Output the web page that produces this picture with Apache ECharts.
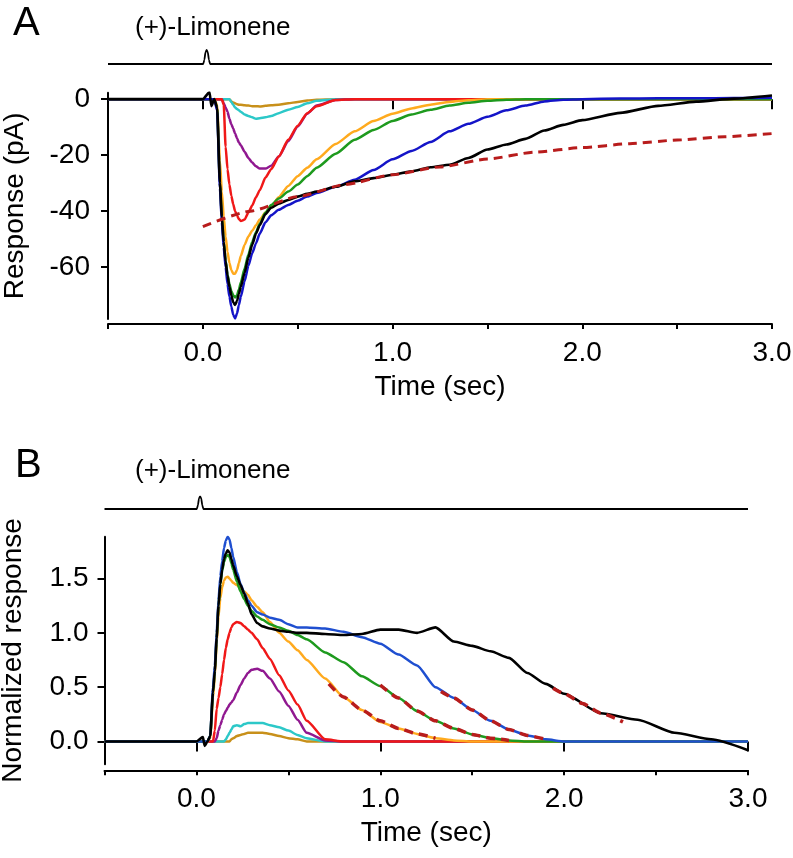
<!DOCTYPE html>
<html><head><meta charset="utf-8">
<script src="https://cdn.jsdelivr.net/npm/echarts/dist/echarts.min.js"></script>
<style>html,body{margin:0;padding:0;background:#fff}#c{width:793px;height:858px}</style>
</head><body><div id="c"></div>
<script>
// ---- shared sample times (s) ----
const time = [-0.5, 0, 0.035, 0.045, 0.06, 0.075, 0.09, 0.1, 0.11, 0.12, 0.13, 0.14, 0.15, 0.16, 0.17, 0.18, 0.19, 0.2, 0.22, 0.24, 0.26, 0.28, 0.3, 0.33, 0.36, 0.4, 0.45, 0.5, 0.55, 0.6, 0.7, 0.8, 0.9, 1.0, 1.1, 1.2, 1.3, 1.4, 1.5, 1.6, 1.7, 1.8, 1.9, 2.0, 2.2, 2.4, 2.6, 2.8, 3.0];

// ---- Panel A: response (pA) ----
const aBlack  = [0,0,2.5,-2.5,0,-3,-30,-42,-51,-58,-63,-67,-70,-72.5,-73.5,-72,-69.5,-67,-62,-56.5,-52,-48,-45,-41,-38.8,-37.3,-36,-34.8,-33.8,-33,-31.3,-29.3,-28.2,-27,-25.8,-24.3,-23.4,-21,-18,-16.2,-14.2,-11.2,-9.2,-7.5,-4.9,-2.4,-0.9,0.2,1.3];
const aBlue   = [0,0,0,0,0,-4,-32,-44,-53,-60,-66,-70.5,-74,-77,-78.3,-76.5,-73.5,-70.5,-65,-59.5,-55,-51.5,-48,-44,-41.5,-39.5,-37.8,-36.3,-34.8,-33.5,-31.3,-28.8,-25.3,-21.5,-18.5,-15.3,-11.5,-8.8,-6.3,-4.0,-2.3,-0.8,-0.2,0,0.2,0.3,0.3,0.4,0.5];
const aGreen  = [0,0,0,0,0,-3,-30,-42,-51,-57.5,-62.5,-66,-68.5,-70,-70.8,-70,-68,-65.5,-60.5,-55.5,-51,-47.5,-44.5,-40.5,-37.8,-35.5,-33,-30.5,-27.5,-24.5,-19.5,-14.5,-11,-7.8,-5.5,-3.8,-2.3,-1.3,-0.6,-0.2,0,0,0,0,0,0,0,0,0];
const aOrange = [0,0,0,0,0,-2,-22,-33,-42,-49,-54.5,-58.5,-61,-62.3,-62.3,-61,-58.5,-56,-52,-49,-47,-45,-43,-40.5,-38.5,-35,-31,-27.5,-24.5,-21.5,-16,-11.5,-7.8,-5.2,-3.3,-2.0,-1.0,-0.4,0,0,0,0,0,0,0,0,0,0,0];
const aRed    = [0,0,0,0,0,0,0,0,-2,-17,-25,-30.5,-34.5,-37.5,-40,-41.5,-42.8,-43.5,-43,-40.5,-38,-35,-32.5,-28,-25,-20.5,-14.5,-9.5,-5,-2.5,-0.3,0,0,0,0,0,0,0,0,0,0,0,0,0,0,0,0,0,0];
const aPurple = [0,0,0,0,0,0,0,0,-1.5,-3,-4.5,-7,-9,-10.5,-12.3,-14,-15.5,-16.5,-18.8,-21,-22.6,-24,-24.8,-24.8,-23.8,-20.5,-15,-9.8,-5.2,-2.3,-0.3,0,0,0,0,0,0,0,0,0,0,0,0,0,0,0,0,0,0];
const aCyan   = [0,0,0,0,0,0,0,0,0,0,0,0,-1,-2,-3,-3.5,-4,-4.5,-5.5,-6,-6.5,-7,-6.8,-6.5,-6,-5,-3.8,-2.8,-1.5,-0.6,0,0,0,0,0,0,0,0,0,0,0,0,0,0,0,0,0,0,0];
const aGold   = [0,0,0,0,0,0,0,0,0,0,0,0,-0.8,-1.2,-1.5,-1.8,-2,-2,-2.2,-2.3,-2.5,-2.5,-2.6,-2.4,-2.2,-2,-1.5,-1,-0.5,-0.2,0,0,0,0,0,0,0,0,0,0,0,0,0,0,0,0,0,0,0];
const aFitTime = [0, 0.25, 0.5, 0.75, 1.0, 1.25, 1.5, 1.75, 2.0, 2.25, 2.5, 2.75, 3.0];
const aFit     = [-45.5, -40.0, -34.8, -30.5, -27.0, -24.2, -21.4, -18.9, -17.3, -15.9, -14.6, -13.4, -12.3];

// ---- Panel B: normalized response ----
const bBlack  = [0,0,0.04,-0.04,0,0.05,0.45,0.65,0.95,1.25,1.45,1.58,1.68,1.73,1.76,1.74,1.68,1.62,1.52,1.44,1.36,1.27,1.17,1.09,1.06,1.04,1.02,1.01,1.0,1.0,0.99,0.98,0.99,1.03,1.03,1.0,1.05,0.92,0.88,0.83,0.77,0.63,0.53,0.44,0.26,0.2,0.08,0.02,-0.08];
const bBlue   = [0,0,0,0,0,0.05,0.5,0.7,1.0,1.3,1.52,1.66,1.78,1.85,1.885,1.86,1.78,1.7,1.56,1.45,1.37,1.3,1.25,1.19,1.17,1.14,1.12,1.08,1.05,1.05,1.04,1.01,0.96,0.9,0.8,0.7,0.5,0.4,0.29,0.19,0.11,0.055,0.02,0,0,0,0,0,0];
const bGreen  = [0,0,0,0,0,0.05,0.45,0.65,0.95,1.25,1.45,1.57,1.65,1.7,1.716,1.7,1.64,1.58,1.47,1.38,1.31,1.25,1.2,1.15,1.12,1.08,1.05,1.02,0.98,0.94,0.82,0.73,0.6,0.51,0.4,0.28,0.19,0.12,0.065,0.03,0.01,0,0,0,0,0,0,0,0];
const bOrange = [0,0,0,0,0,0.03,0.4,0.6,0.9,1.15,1.32,1.42,1.48,1.51,1.516,1.5,1.48,1.46,1.44,1.41,1.38,1.35,1.3,1.24,1.19,1.1,1.0,0.92,0.84,0.75,0.58,0.41,0.29,0.18,0.12,0.07,0.03,0.01,0,0,0,0,0,0,0,0,0,0,0];
const bRed    = [0,0,0,0,0,0,0,0.1,0.3,0.4,0.5,0.62,0.75,0.86,0.94,1.0,1.05,1.08,1.1,1.09,1.06,1.03,1.0,0.94,0.86,0.76,0.61,0.47,0.34,0.19,0.02,0,0,0,0,0,0,0,0,0,0,0,0,0,0,0,0,0,0];
const bPurple = [0,0,0,0,0,0,0,0,0.03,0.1,0.15,0.2,0.25,0.28,0.31,0.34,0.36,0.38,0.45,0.52,0.58,0.63,0.66,0.67,0.65,0.58,0.46,0.33,0.2,0.08,0.01,0,0,0,0,0,0,0,0,0,0,0,0,0,0,0,0,0,0];
const bCyan   = [0,0,0,0,0,0,0,0,0,0,0,0,0,0.02,0.05,0.08,0.11,0.14,0.15,0.14,0.16,0.17,0.17,0.17,0.17,0.15,0.13,0.1,0.06,0.03,0,0,0,0,0,0,0,0,0,0,0,0,0,0,0,0,0,0,0];
const bGold   = [0,0,0,0,0,0,0,0,0,0,0,0,0,0,0,0,0.02,0.03,0.05,0.06,0.07,0.08,0.08,0.08,0.08,0.07,0.05,0.03,0.02,0,0,0,0,0,0,0,0,0,0,0,0,0,0,0,0,0,0,0,0];
const bFit1Time = [0.72,0.8,0.9,1.0,1.1,1.2,1.3];
const bFit1     = [0.53,0.41,0.29,0.19,0.12,0.07,0.03];
const bFit2Time = [1.0,1.1,1.2,1.3,1.4,1.5,1.6,1.7];
const bFit2     = [0.52,0.4,0.28,0.19,0.12,0.065,0.03,0.01];
const bFit3Time = [1.33,1.4,1.5,1.6,1.7,1.8,1.9];
const bFit3     = [0.46,0.4,0.29,0.19,0.11,0.055,0.02];
const bFit4Time = [1.94,2.0,2.1,2.2,2.32];
const bFit4     = [0.49,0.44,0.35,0.26,0.18];

// ---- stimulus marker ----
const stimTime  = [-0.5, 0.002, 0.008, 0.014, 0.02, 0.026, 0.032, 0.038, 3.0];
const stimLevel = [0, 0, 0.3, 0.85, 1, 0.85, 0.3, 0, 0];

// ---- ticks / labels ----
const xMajorTicks = [0, 1, 2, 3];
const aYTicks = [-60, -40, -20, 0];
const bYTicks = [0, 0.5, 1.0, 1.5];

const FONT = "'Liberation Sans', Arial, Helvetica, sans-serif";
const pairs = (t, v) => t.map((x, i) => [x, v[i]]);
const chart = echarts.init(document.getElementById('c'), null, {renderer: 'canvas'});

function ln(xi, yi, t, v, color, width, dashed) {
  return {type: 'line', xAxisIndex: xi, yAxisIndex: yi, data: pairs(t, v), symbol: 'none', showSymbol: false,
    silent: true, animation: false, smooth: 0.2, smoothMonotone: 'x',
    lineStyle: {color: color, width: width, type: dashed ? [9, 6] : 'solid', cap: 'butt', join: 'round'}};
}
function mainX(gi, offset, name) {
  return {gridIndex: gi, type: 'value', min: -0.5, max: 3, interval: 0.5, offset: offset,
    axisLine: {show: true, onZero: false, lineStyle: {color: '#000', width: 2}},
    axisTick: {show: true, length: 5, lineStyle: {color: '#000', width: 2}},
    axisLabel: {margin: 15, fontSize: 28, color: '#000', fontFamily: FONT,
      formatter: v => (Math.abs(v - Math.round(v)) < 1e-9 ? v.toFixed(1) : '')},
    splitLine: {show: false},
    name: name, nameLocation: 'middle', nameGap: 49,
    nameTextStyle: {fontSize: 28, color: '#000', fontFamily: FONT}};
}
function majorX(gi, offset) {
  return {gridIndex: gi, type: 'value', min: -0.5, max: 3, offset: offset, position: 'bottom',
    axisLine: {show: false}, axisLabel: {show: false}, splitLine: {show: false},
    axisTick: {show: true, length: 10, customValues: xMajorTicks, lineStyle: {color: '#000', width: 2}}};
}
function hidden(gi, min, max) {
  return {gridIndex: gi, type: 'value', min: min, max: max, show: false, splitLine: {show: false}};
}
function mainY(gi, min, max, ticks, fmt, margin, name, gap) {
  return {gridIndex: gi, type: 'value', min: min, max: max,
    axisLine: {show: true, onZero: false, lineStyle: {color: '#000', width: 2}},
    axisTick: {show: true, length: 7, customValues: ticks, lineStyle: {color: '#000', width: 2}},
    axisLabel: {customValues: ticks, margin: margin, fontSize: 28, color: '#000', fontFamily: FONT, formatter: fmt},
    splitLine: {show: false},
    name: name, nameLocation: 'middle', nameGap: gap, nameRotate: 90,
    nameTextStyle: {fontSize: 28, color: '#000', fontFamily: FONT}};
}

const option = {
  backgroundColor: '#fff',
  animation: false,
  grid: [
    {left: 108, top: 50, width: 664, height: 14, outerBoundsMode: 'none'},
    {left: 108, top: 92.7, width: 664, height: 226.3, outerBoundsMode: 'none'},
    {left: 104.5, top: 496.5, width: 643.5, height: 12.5, outerBoundsMode: 'none'},
    {left: 104.5, top: 536.7, width: 643.5, height: 227.6, outerBoundsMode: 'none'}
  ],
  xAxis: [
    hidden(0, -0.5, 3),
    mainX(1, 5, 'Time (sec)'),
    majorX(1, 5),
    hidden(2, -0.5, 3),
    mainX(3, 6, 'Time (sec)'),
    majorX(3, 6)
  ],
  yAxis: [
    hidden(0, 0, 1),
    mainY(1, -78.5, 2.3, aYTicks, v => String(v), 18, 'Response (pA)', 79),
    hidden(2, 0, 1),
    mainY(3, -0.21, 1.885, bYTicks, v => v.toFixed(1), 16, 'Normalized response', 77)
  ],
  graphic: [
    {type: 'text', x: 13, y: 24, style: {text: 'A', fontSize: 40, fontFamily: FONT, fill: '#000', verticalAlign: 'middle', textVerticalAlign: 'middle'}},
    {type: 'text', x: 135, y: 28, style: {text: '(+)-Limonene', fontSize: 26, fontFamily: FONT, fill: '#000', verticalAlign: 'middle', textVerticalAlign: 'middle'}},
    {type: 'text', x: 15, y: 466, style: {text: 'B', fontSize: 40, fontFamily: FONT, fill: '#000', verticalAlign: 'middle', textVerticalAlign: 'middle'}},
    {type: 'text', x: 135, y: 471, style: {text: '(+)-Limonene', fontSize: 26, fontFamily: FONT, fill: '#000', verticalAlign: 'middle', textVerticalAlign: 'middle'}}
  ],
  series: [
    ln(0, 0, stimTime, stimLevel, '#000', 1.8),
    ln(1, 1, time, aGold, '#c8901a', 2.5),
    ln(1, 1, time, aCyan, '#2cc8c8', 2.5),
    ln(1, 1, time, aPurple, '#901890', 2.5),
    ln(1, 1, time, aRed, '#f01818', 2.5),
    ln(1, 1, time, aOrange, '#ffaa1e', 2.5),
    ln(1, 1, time, aGreen, '#1e9a1e', 2.5),
    ln(1, 1, time, aBlue, '#1414c8', 2.5),
    ln(1, 1, time, aBlack, '#000000', 2.6),
    ln(1, 1, aFitTime, aFit, '#b81c1c', 3, true),
    ln(3, 2, stimTime, stimLevel, '#000', 1.8),
    ln(4, 3, time, bGold, '#c8901a', 2.5),
    ln(4, 3, time, bCyan, '#2cc8c8', 2.5),
    ln(4, 3, time, bPurple, '#901890', 2.5),
    ln(4, 3, time, bRed, '#f01818', 2.5),
    ln(4, 3, time, bOrange, '#ffaa1e', 2.5),
    ln(4, 3, time, bGreen, '#1e9a1e', 2.5),
    ln(4, 3, time, bBlue, '#1f4fd0', 2.5),
    ln(4, 3, time, bBlack, '#000000', 2.6),
    ln(4, 3, bFit1Time, bFit1, '#b81c1c', 3.5, true),
    ln(4, 3, bFit2Time, bFit2, '#b81c1c', 3.5, true),
    ln(4, 3, bFit3Time, bFit3, '#b81c1c', 3.5, true),
    ln(4, 3, bFit4Time, bFit4, '#b81c1c', 3.5, true)
  ]
};
chart.setOption(option);
</script></body></html>
